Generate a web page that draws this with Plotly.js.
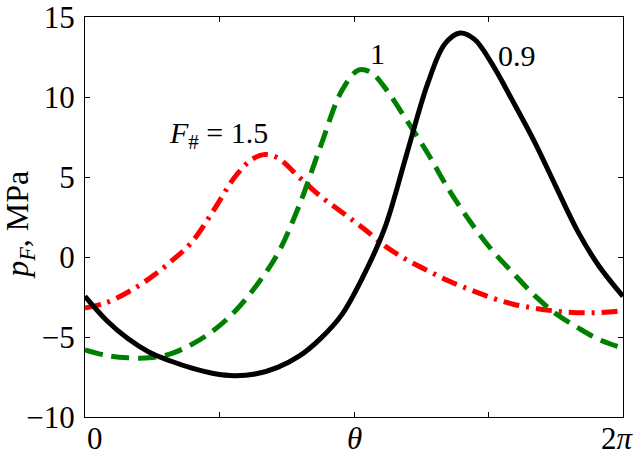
<!DOCTYPE html>
<html>
<head>
<meta charset="utf-8">
<script src="https://cdn.plot.ly/plotly-3.0.1.min.js"></script>
<style>html,body{margin:0;padding:0;background:#fff;}#chart{width:644px;height:459px;}</style>
</head>
<body>
<div id="chart"></div>
<script>
// F# = 0.9 (black, solid)
const theta09 = [0, 0.25, 0.5, 0.75, 1.0, 1.25, 1.5, 1.75, 2.0, 2.25, 2.5, 2.75, 3.0, 3.25, 3.5, 3.75, 4.0, 4.2, 4.38, 4.55, 4.75, 5.0, 5.25, 5.5, 5.75, 6.0, 6.2832];
const p09 = [-2.46, -3.95, -5.1, -5.95, -6.5, -6.95, -7.28, -7.42, -7.3, -6.9, -6.2, -5.1, -3.6, -1.2, 1.8, 6.3, 10.8, 13.3, 14.0, 13.6, 12.1, 9.7, 7.2, 4.4, 1.65, -0.55, -2.46];
// F# = 1 (green, dashed)
const theta10 = [0, 0.25, 0.5, 0.75, 1.0, 1.25, 1.5, 1.75, 2.0, 2.25, 2.5, 2.75, 3.0, 3.2, 3.35, 3.5, 3.75, 4.0, 4.25, 4.5, 4.75, 5.0, 5.25, 5.5, 5.75, 6.0, 6.2832];
const p10 = [-5.8, -6.15, -6.3, -6.3, -6.05, -5.45, -4.6, -3.4, -1.8, 0.2, 3.2, 6.9, 10.4, 11.7, 11.5, 10.6, 8.6, 6.5, 4.2, 2.2, 0.45, -1.0, -2.4, -3.55, -4.4, -5.15, -5.7];
// F# = 1.5 (red, dash-dot)
const theta15 = [0, 0.25, 0.5, 0.75, 1.0, 1.25, 1.5, 1.75, 1.95, 2.1, 2.25, 2.5, 2.75, 3.0, 3.25, 3.5, 3.75, 4.0, 4.25, 4.5, 4.75, 5.0, 5.25, 5.5, 5.75, 6.0, 6.2832];
const p15 = [-3.19, -2.85, -2.2, -1.35, -0.3, 0.95, 2.9, 5.0, 6.1, 6.4, 6.2, 5.0, 3.8, 2.8, 1.8, 0.7, -0.15, -0.85, -1.5, -2.05, -2.55, -2.95, -3.2, -3.38, -3.48, -3.48, -3.36];

// axis ticks and labels
const xTickVals = [0, Math.PI/2, Math.PI, 3*Math.PI/2, 2*Math.PI];
const xLabelVals = [0, Math.PI, 2*Math.PI];
const xLabelText = ['0', '<i>θ</i>', '2<i>π</i>'];
const yTickVals = [-10, -5, 0, 5, 10, 15];
const yTickText = ['−10', '−5', '0', '5', '10', '15'];

// curve labels
const curveLabelText = ['<i>F</i><sub>#</sub> = 1.5', '1', '0.9'];
const curveLabelX = [0.96, 3.42, 5.04];
const curveLabelY = [7.6, 12.7, 12.6];

const FONT = 'Liberation Serif';
const xLabelAnchor = ['left', 'center', 'center'];
const xLabelShift = [0, 0, -6];

const traces = [
  {x: theta15, y: p15, mode: 'lines', line: {color: '#ff0000', width: 5, dash: '16px,7px,3px,7px', shape: 'spline', smoothing: 1}},
  {x: theta10, y: p10, mode: 'lines', line: {color: '#008000', width: 5, dash: '18px,9px', shape: 'spline', smoothing: 1}},
  {x: theta09, y: p09, mode: 'lines', line: {color: '#000000', width: 5, shape: 'spline', smoothing: 1}}
];

const annotations = curveLabelText.map((t, i) => ({
  text: t, x: curveLabelX[i], y: curveLabelY[i], xref: 'x', yref: 'y',
  xanchor: i === 0 ? 'left' : 'center', yanchor: 'middle',
  showarrow: false, font: {family: FONT, size: 30, color: '#000'}
}));
xLabelText.forEach((t, i) => annotations.push({
  text: t, x: xLabelVals[i], y: 0, xref: 'x', yref: 'paper',
  xanchor: xLabelAnchor[i], yanchor: 'middle', xshift: xLabelShift[i], yshift: -21,
  showarrow: false, font: {family: FONT, size: 31, color: '#000'}
}));
annotations.push({
  text: '<i>p</i><sub><i>F</i></sub>, MPa', xref: 'paper', yref: 'paper', x: -0.123, y: 0.48,
  xanchor: 'center', yanchor: 'middle', textangle: -90, showarrow: false,
  font: {family: FONT, size: 32, color: '#000'}
});

const axisCommon = {
  showgrid: false, zeroline: false, showline: true, linecolor: '#000', linewidth: 1,
  mirror: 'ticks', ticks: 'inside', ticklen: 5, tickwidth: 1, tickcolor: '#000',
  tickfont: {family: FONT, size: 31, color: '#000'}, ticklabeloverflow: 'allow'
};

const layout = {
  width: 644, height: 459,
  margin: {l: 85, r: 21, t: 17, b: 42},
  paper_bgcolor: '#fff', plot_bgcolor: '#fff',
  showlegend: false,
  font: {family: FONT},
  xaxis: Object.assign({}, axisCommon, {range: [0, 2*Math.PI], tickmode: 'array', tickvals: xTickVals, showticklabels: false}),
  yaxis: Object.assign({}, axisCommon, {range: [-10, 15], tickmode: 'array', tickvals: yTickVals, ticktext: yTickText, ticklabelstandoff: 3}),
  annotations: annotations
};

Plotly.newPlot('chart', traces, layout, {staticPlot: true, displayModeBar: false});
</script>
</body>
</html>
